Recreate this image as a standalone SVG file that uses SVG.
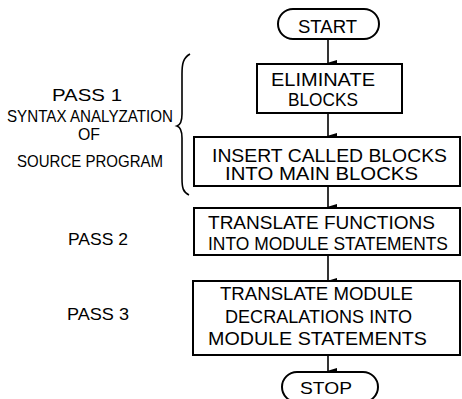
<svg xmlns="http://www.w3.org/2000/svg" width="462" height="399" viewBox="0 0 462 399">
<defs>
<style>
.box{fill:#fff;stroke:#000;stroke-width:2}
.t{font-family:"Liberation Sans",Arial,sans-serif;font-size:18px;fill:#000}
.l{font-family:"Liberation Sans",Arial,sans-serif;font-size:17px;fill:#000;text-anchor:middle}
.c{stroke:#000;stroke-width:1.6;fill:none}
</style>
<marker id="ah" markerWidth="8" markerHeight="10" refX="4" refY="9" orient="auto-start-reverse" markerUnits="userSpaceOnUse" viewBox="0 0 8 10">
<path d="M1,0 L7,0 L4,10 Z" fill="#000"/>
</marker>
</defs>
<rect width="462" height="399" fill="#fff"/>
<g id="connectors">
<line class="c" x1="328" y1="39" x2="328" y2="63" marker-end="url(#ah)"/>
<line class="c" x1="328" y1="113" x2="328" y2="136" marker-end="url(#ah)"/>
<line class="c" x1="328" y1="186" x2="328" y2="207" marker-end="url(#ah)"/>
<line class="c" x1="328" y1="255" x2="328" y2="281" marker-end="url(#ah)"/>
<line class="c" x1="328" y1="355" x2="328" y2="371" marker-end="url(#ah)"/>
</g>
<g id="start">
<rect class="box" x="278" y="9" width="101" height="30" rx="15"/>
<text class="t" x="298" y="33" textLength="59" lengthAdjust="spacingAndGlyphs">START</text>
</g>
<g id="eliminate">
<rect class="box" x="257" y="64" width="145" height="49"/>
<text class="t" x="271" y="86" textLength="104" lengthAdjust="spacingAndGlyphs">ELIMINATE</text>
<text class="t" x="288" y="106" textLength="70" lengthAdjust="spacingAndGlyphs">BLOCKS</text>
</g>
<g id="insert">
<rect class="box" x="194" y="137" width="266" height="49"/>
<text class="t" x="212" y="162" textLength="235" lengthAdjust="spacingAndGlyphs">INSERT  CALLED  BLOCKS</text>
<text class="t" x="225" y="180" textLength="193" lengthAdjust="spacingAndGlyphs">INTO  MAIN  BLOCKS</text>
</g>
<g id="translate-functions">
<rect class="box" x="194" y="208" width="266" height="47"/>
<text class="t" x="208" y="229" textLength="227" lengthAdjust="spacingAndGlyphs">TRANSLATE  FUNCTIONS</text>
<text class="t" x="208" y="250" textLength="240" lengthAdjust="spacingAndGlyphs">INTO  MODULE  STATEMENTS</text>
</g>
<g id="translate-module">
<rect class="box" x="193" y="281" width="267" height="74"/>
<text class="t" x="220" y="300" textLength="193" lengthAdjust="spacingAndGlyphs">TRANSLATE  MODULE</text>
<text class="t" x="225" y="323" textLength="187" lengthAdjust="spacingAndGlyphs">DECRALATIONS  INTO</text>
<text class="t" x="208" y="345" textLength="219" lengthAdjust="spacingAndGlyphs">MODULE  STATEMENTS</text>
</g>
<g id="stop">
<rect class="box" x="282" y="372" width="96" height="30" rx="15"/>
<text class="t" x="300" y="394" textLength="52" lengthAdjust="spacingAndGlyphs" style="font-size:17px">STOP</text>
</g>
<g id="pass1">
<path class="c" d="M190,54 C183,58 182,64 182,74 L182,114 C182,122 180,125 177,126 C180,127 182,130 182,138 L182,178 C182,188 183,192 189,195"/>
<text class="l" x="87" y="101" textLength="70" lengthAdjust="spacingAndGlyphs">PASS 1</text>
<text class="l" x="90" y="122" textLength="166" lengthAdjust="spacingAndGlyphs">SYNTAX ANALYZATION</text>
<text class="l" x="89" y="140" textLength="22" lengthAdjust="spacingAndGlyphs">OF</text>
<text class="l" x="90" y="167" textLength="146" lengthAdjust="spacingAndGlyphs">SOURCE PROGRAM</text>
</g>
<g id="pass2">
<text class="l" x="98" y="245" textLength="60" lengthAdjust="spacingAndGlyphs">PASS  2</text>
</g>
<g id="pass3">
<text class="l" x="98" y="320" textLength="62" lengthAdjust="spacingAndGlyphs">PASS  3</text>
</g>
</svg>
